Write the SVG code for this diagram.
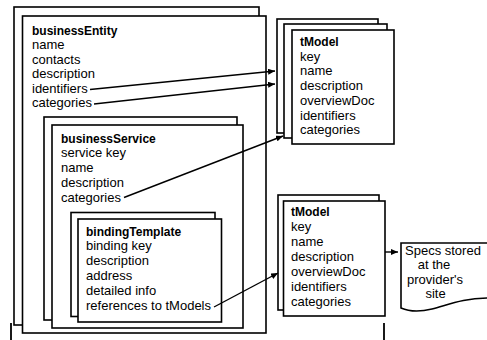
<svg xmlns="http://www.w3.org/2000/svg" width="487" height="340" viewBox="0 0 487 340">
<defs>
<style>
.fr{fill:#fff;stroke:#000;stroke-width:1.6}
.t{font-family:"Liberation Sans",Arial,sans-serif;font-size:13px;fill:#000}
.h{font-weight:bold;font-size:12px}
.c{fill:none;stroke:#000;stroke-width:1.4}
.edge{stroke:#000;stroke-width:1.8}
</style>
<marker id="ah" markerWidth="8" markerHeight="6" refX="7" refY="3" orient="auto" markerUnits="userSpaceOnUse">
<path d="M0,0 L7,3 L0,6 Z" fill="#000"/>
</marker>
</defs>
<rect width="487" height="340" fill="#fff"/>

<g id="businessEntity">
<rect class="fr" x="14" y="7" width="245" height="318"/>
<rect class="fr" x="22.5" y="16" width="243.5" height="317"/>
<text class="t" x="32"><tspan class="h" x="32" y="34.5">businessEntity</tspan><tspan x="32" y="49">name</tspan><tspan x="32" y="63.6">contacts</tspan><tspan x="32" y="78.2">description</tspan><tspan x="32" y="92.8">identifiers</tspan><tspan x="32" y="107.4">categories</tspan></text>
</g>

<g id="businessService">
<rect class="fr" x="44" y="117" width="193" height="203"/>
<rect class="fr" x="52" y="125" width="191" height="203"/>
<text class="t"><tspan class="h" x="61" y="142.5">businessService</tspan><tspan x="61" y="157.3">service key</tspan><tspan x="61" y="172.1">name</tspan><tspan x="61" y="186.9">description</tspan><tspan x="61" y="201.7">categories</tspan></text>
</g>

<g id="bindingTemplate">
<rect class="fr" x="71" y="212.5" width="144" height="104"/>
<rect class="fr" x="78" y="219" width="143.5" height="103"/>
<text class="t"><tspan class="h" x="86" y="235.5">bindingTemplate</tspan><tspan x="86" y="250.4">binding key</tspan><tspan x="86" y="265.3">description</tspan><tspan x="86" y="280.2">address</tspan><tspan x="86" y="295.1">detailed info</tspan><tspan x="86" y="310">references to tModels</tspan></text>
</g>

<g id="tModelTop">
<rect class="fr" x="277" y="19" width="101" height="114"/>
<rect class="fr" x="284" y="24" width="103" height="114"/>
<rect class="fr" x="292" y="30" width="102" height="114"/>
<text class="t"><tspan class="h" x="300" y="46">tModel</tspan><tspan x="300" y="60.7">key</tspan><tspan x="300" y="75.4">name</tspan><tspan x="300" y="90.1">description</tspan><tspan x="300" y="104.8">overviewDoc</tspan><tspan x="300" y="119.5">identifiers</tspan><tspan x="300" y="134.2">categories</tspan></text>
</g>

<g id="tModelBottom">
<rect class="fr" x="278" y="195" width="101" height="115"/>
<rect class="fr" x="283.5" y="201" width="101.5" height="115"/>
<text class="t"><tspan class="h" x="291" y="216">tModel</tspan><tspan x="291" y="231">key</tspan><tspan x="291" y="246">name</tspan><tspan x="291" y="261">description</tspan><tspan x="291" y="276">overviewDoc</tspan><tspan x="291" y="291">identifiers</tspan><tspan x="291" y="306">categories</tspan></text>
</g>

<g id="specs">
<path class="fr" d="M401,308 V243 H490 V298 C462,298 448,305 432,309 C420,312 410,312 401,308 Z"/>
<text class="t"><tspan x="405" y="254.5">Specs stored</tspan><tspan x="434" y="269" text-anchor="middle">at the</tspan><tspan x="435" y="283.5" text-anchor="middle">provider's</tspan><tspan x="435.5" y="298" text-anchor="middle">site</tspan></text>
</g>

<g id="connectors">
<line class="c" x1="90" y1="89.5" x2="275" y2="71" marker-end="url(#ah)"/>
<line class="c" x1="94" y1="104" x2="275" y2="84" marker-end="url(#ah)"/>
<line class="c" x1="124" y1="197.5" x2="283" y2="136" marker-end="url(#ah)"/>
<line class="c" x1="214" y1="307" x2="278" y2="273" marker-end="url(#ah)"/>
<line class="c" x1="385" y1="252" x2="398" y2="252" marker-end="url(#ah)"/>
</g>

<g id="scan-edges">
<line class="edge" x1="11" y1="323" x2="11" y2="340"/>
<line class="edge" x1="384" y1="323" x2="384" y2="340"/>
</g>
</svg>
